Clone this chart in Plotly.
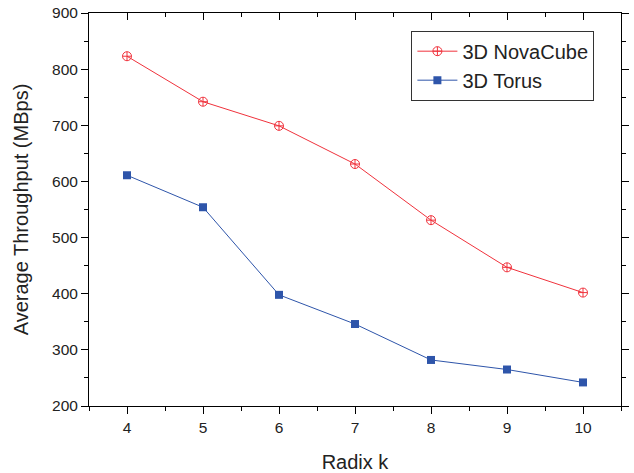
import plotly.graph_objects as go

radix = [4, 5, 6, 7, 8, 9, 10]
novacube = [823, 742, 699, 631, 531, 447, 402]
torus = [611, 554, 398, 346, 282, 265, 242]

font = "Liberation Sans, Arial, sans-serif"
red = "#f0323c"
blue = "#2e55aa"

fig = go.Figure()
fig.add_trace(go.Scatter(x=radix, y=novacube, mode="lines+markers", name="3D NovaCube",
                         line=dict(color=red, width=1),
                         marker=dict(symbol="circle-cross-open", size=9, color=red, line=dict(width=1, color=red))))
fig.add_trace(go.Scatter(x=radix, y=torus, mode="lines+markers", name="3D Torus",
                         line=dict(color=blue, width=1),
                         marker=dict(symbol="square", size=8, color=blue)))
fig.add_trace(go.Scatter(x=[None], y=[None], xaxis="x2", yaxis="y2", showlegend=False, hoverinfo="skip"))

axis_common = dict(showgrid=False, zeroline=False, linecolor="black", linewidth=1, automargin=False,
                   showline=True, tickcolor="black", tickwidth=1,
                   tickfont=dict(family=font, size=15.5, color="#222"))
fig.update_layout(
    width=634, height=473,
    margin=dict(l=89, r=13, t=13, b=67, autoexpand=False),
    plot_bgcolor="white", paper_bgcolor="white",
    font=dict(family=font, color="#222"),
    xaxis=dict(range=[3.5, 10.5], tickvals=radix, ticks="outside", ticklen=7,
               minor=dict(dtick=0.5, tick0=3.5, ticks="outside", ticklen=4, tickcolor="black", tickwidth=1),
               title=dict(text="Radix k", font=dict(family=font, size=20, color="#222"), standoff=20),
               **axis_common),
    yaxis=dict(range=[200, 900], dtick=100, ticks="outside", ticklen=7,
               minor=dict(dtick=50, ticks="outside", ticklen=4, tickcolor="black", tickwidth=1),
               title=dict(text="Average Throughput (MBps)", font=dict(family=font, size=20, color="#222"), standoff=18),
               **axis_common),
    xaxis2=dict(overlaying="x", side="top", range=[3.5, 10.5], tickvals=radix, ticks="inside", ticklen=7,
                showticklabels=False,
                minor=dict(dtick=0.5, tick0=3.5, ticks="inside", ticklen=4, tickcolor="black", tickwidth=1),
                **axis_common),
    yaxis2=dict(overlaying="y", side="right", range=[200, 900], dtick=100, ticks="outside", ticklen=7,
                showticklabels=False,
                minor=dict(dtick=50, ticks="outside", ticklen=4, tickcolor="black", tickwidth=1),
                **axis_common),
    legend=dict(x=0.606, y=0.955, xanchor="left", yanchor="top", bgcolor="white",
                bordercolor="#333", borderwidth=1, font=dict(family=font, size=20, color="#222"),
                itemwidth=40, tracegroupgap=0),
    showlegend=True,
)
fig.write_html("out.html", config={"displayModeBar": False},
               post_script="document.body.style.margin='0';")
